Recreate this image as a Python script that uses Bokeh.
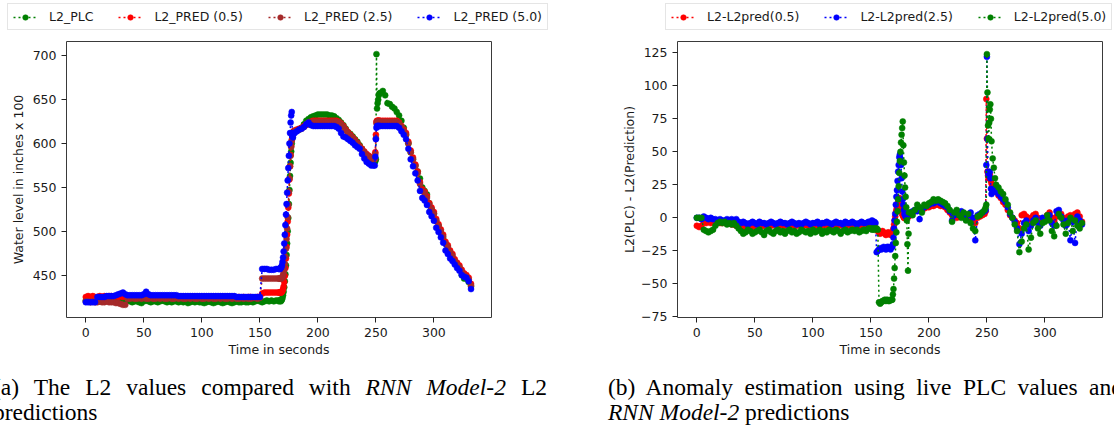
from bokeh.plotting import figure
from bokeh.models import ColumnDataSource, Range1d, FixedTicker, Legend, LegendItem, Div
from bokeh.layouts import column, row
from bokeh.embed import file_html
from bokeh.resources import INLINE

FONT = "DejaVu Sans"
FS = "12.5px"

# ---------------- panel (a): L2 values vs predictions ----------------
TIME_A = (list(range(0, 166, 2))
          + [166, 166.5, 167, 167.5, 168, 168.5, 169, 169.5, 170, 170.5, 171, 171.5, 172, 172.5,
             173, 173.5, 174, 174.5, 175, 175.5, 176, 176.5, 177, 177.5, 178, 178.5, 179]
          + list(range(180, 249, 2))
          + [249, 249.5, 250, 250.5, 251, 251.5, 252, 252.5, 253]
          + list(range(254, 333, 2)))

L2_PLC = ([421, 420, 421, 420, 421, 420, 420, 421, 420, 421,
           420, 421, 420, 420, 421, 420, 419, 420, 421, 420,
           419, 420, 420, 419, 418, 420, 421, 420, 419, 420,
           420, 419, 420, 421, 420, 419, 420, 419, 420, 420,
           419, 420, 419, 420, 418, 419, 420, 419, 420, 419,
           419, 418, 419, 420, 419, 418, 419, 420, 419, 418,
           419, 420, 419, 418, 419, 420, 419, 419, 420, 419,
           419, 420, 419, 420, 421, 420, 419, 420, 421, 420,
           421, 420, 421]
          + [421, 420, 421, 421, 420, 421, 422, 424, 427, 431, 436, 443, 451, 461,
             473, 486, 500, 515, 531, 547, 563, 578, 591, 600, 606, 610, 613]
          + [614, 615, 616, 618, 622, 626, 628, 630, 631, 632,
             633, 633, 633, 633, 633, 632, 632, 631, 629, 627,
             624, 621, 617, 613, 611, 608, 605, 602, 598, 594,
             590, 587, 584, 582, 580]
          + [579, 580, 582, 702, 640, 646, 650, 655, 657]
          + [658, 660, 655, 646, 645, 642, 640, 636, 632, 626,
             618, 610, 600, 590, 582, 575, 568, 560, 550, 546,
             542, 532, 525, 520, 512, 506, 498, 492, 486, 482,
             476, 470, 464, 462, 458, 450, 446, 446, 442, 437])

L2_PRED_05 = ([425, 426, 425, 426, 425,
               425, 426, 425, 426, 425, 426, 426, 425, 426, 425,
               426, 425, 426,
               424, 425, 424, 424, 425, 424, 424, 425, 424, 425,
               425, 424, 425, 425, 424, 425, 425, 424, 425, 425,
               424, 425, 424, 425, 425, 424, 425, 424, 425, 425,
               424, 425, 424, 425, 425, 424, 425, 425, 424, 425,
               424, 425, 424, 425, 425, 424, 425, 424, 425, 424,
               425, 424, 425, 425, 424, 424, 425, 425,
               429, 430, 430, 430, 430, 430, 430]
              + [430, 430, 430, 430, 430, 430, 431, 432, 434, 437, 442, 449, 458, 469,
                 482, 496, 511, 527, 543, 559, 574, 587, 597, 604, 609, 612, 614]
              + [615, 616, 617, 618, 620, 622, 624, 625, 626, 626,
                 626, 626, 626, 626, 626, 626, 626, 626, 626, 625,
                 623, 620, 616, 613, 610, 607, 604, 601, 597, 594,
                 591, 588, 586, 584, 583]
              + [583, 590, 610, 625, 626, 626, 626, 626, 626]
              + [626, 626, 626, 626, 626, 626, 626, 626, 624, 620,
                 616, 612, 602, 592, 584, 576, 568, 556, 548, 545,
                 540, 532, 527, 522, 514, 508, 502, 496, 488, 484,
                 478, 474, 468, 464, 461, 456, 452, 450, 447, 440])

L2_PRED_25 = ([420, 420, 419, 420, 419, 419, 420, 419, 419, 420, 419, 419, 419, 418, 418,
               417, 416, 416,
               423, 423, 424, 423, 423, 424, 423, 424, 423, 423,
               424, 423, 423, 424, 423, 424, 423, 423, 424, 423,
               423, 424, 423, 424, 423, 423, 424, 423, 424, 423,
               423, 424, 423, 423, 424, 423, 424, 423, 423, 424,
               423, 424, 423, 423, 424, 423, 424, 423, 423, 424,
               423, 424, 423, 423, 424, 424, 423, 424,
               446, 446, 446, 446, 446, 446, 446]
              + [446, 446, 446, 446, 446, 446, 447, 448, 450, 453, 457, 463, 471, 480,
                 491, 503, 516, 530, 545, 560, 574, 586, 596, 603, 608, 611, 613]
              + [614, 615, 616, 617, 619, 621, 623, 624, 625, 625,
                 625, 625, 625, 625, 625, 625, 625, 625, 625, 624,
                 622, 619, 615, 612, 609, 606, 603, 600, 596, 593,
                 590, 587, 585, 583, 582]
              + [582, 588, 606, 623, 625, 625, 625, 625, 625]
              + [625, 625, 625, 625, 625, 625, 625, 625, 623, 619,
                 614, 610, 600, 590, 582, 574, 566, 554, 546, 543,
                 538, 530, 525, 520, 512, 506, 500, 494, 486, 482,
                 476, 472, 466, 462, 459, 454, 450, 448, 445, 438])

L2_PRED_50 = ([419, 419, 419, 419, 419,
               425, 425, 425, 425, 426, 426, 426, 426, 427, 428,
               429, 430, 428,
               427, 427, 427, 427, 427, 427, 427, 428, 431, 428,
               427, 427, 427, 427, 427, 427, 427, 427, 427, 427,
               427, 427, 426, 426, 426, 426, 426, 426, 426, 426,
               426, 426, 426, 426, 426, 426, 426, 426, 426, 426,
               426, 426, 426, 426, 426, 426, 426, 425, 425, 425,
               425, 425, 425, 425, 425, 425, 425, 425,
               457, 457, 457, 456, 456, 456, 457]
              + [457, 457, 457, 457, 458, 459, 461, 465, 470, 477, 486, 496, 507, 519,
                 531, 544, 558, 572, 586, 600, 612, 624, 632, 636, 612, 607, 612]
              + [612, 614, 616, 617, 619, 622, 624, 621, 620, 620,
                 620, 620, 620, 620, 620, 620, 620, 620, 619, 617,
                 612, 608, 607, 605, 603, 601, 598, 596, 594, 588,
                 583, 579, 577, 575, 575]
              + [575, 585, 605, 618, 620, 620, 620, 620, 620]
              + [620, 620, 620, 620, 620, 620, 620, 620, 618, 614,
                 610, 605, 594, 582, 574, 566, 558, 546, 538, 535,
                 530, 522, 517, 512, 504, 499, 493, 487, 478, 474,
                 469, 466, 462, 458, 455, 450, 448, 447, 443, 434])

# ---------------- panel (b): anomaly estimation ----------------
TIME_B = (list(range(0, 150, 2))
          + list(range(150, 169))
          + [168.5, 169, 169.5, 170, 170.5, 171, 171.5, 172, 172.5, 173,
             173.5, 174, 174.5, 175, 175.5, 176, 176.5, 177, 177.5, 178,
             178.5, 179, 179.5, 180, 180.5, 181, 181.5, 182, 182.5, 183]
          + list(range(184, 249, 2))
          + [249, 249.5, 250, 250.5, 251, 251.5, 252, 252.5, 253, 253.5, 254, 255, 256, 257]
          + list(range(258, 333, 2)))

DIFF_05 = ([-6, -7, -6,
            -3, -4, -3, -4, -3,
            -4, -3, -4, -4, -3, -4, -4, -5, -5, -6,
            -7, -8, -7, -8, -7, -6, -7, -6, -6, -7,
            -6, -6, -5, -6, -6, -5, -6, -6, -5, -6,
            -6, -5, -6, -5, -6, -6, -5, -6, -6, -5,
            -6, -5, -6, -6, -5, -6, -6, -5, -6, -5,
            -6, -6, -5, -6, -5, -6, -6, -5, -6, -6,
            -5, -6, -6, -5, -6, -5, -6]
           + [-6, -5, -6, -7, -8, -9, -10, -11, -12, -11, -10, -11, -12, -13, -12, -11, -12, -13, -12]
           + [-12, -10, -8, -5, -2, 1, 4, 6, 8, 10,
              12, 14, 15, 14, 12, 8, 5, 3, 2, 1,
              0, 0, 0, 1, 1, 0, 0, 1, 1, 2]
           + [2, 4, 5, 6, 6, 7, 7, 8, 8, 9,
              9, 10, 10, 9, 9, 8, 6, 4, 2, 1,
              0, 1, 2, 3, 2, 1, 0, -3, -4, 0,
              1, 2, 3]
           + [5, 90, 60, 35, 32, 30, 31, 33, 30, 28, 26, 24, 22, 20]
           + [20, 17, 15, 12, 10, 6, 2, 0, -2, -4,
              -8, 2, 3, 1, -2, 0, 2, 3, 0, -4,
              -2, 0, 2, 4, 0, -2, 1, 2, 3, 0,
              -2, 1, 2, 0, 3, 4, 1, -3])

DIFF_25 = ([0, 0, -1,
            1, 0, -1, 0, -1,
            -1, -2, -1, -2, -2, -1, -2, -1, -2, -1,
            -3, -4, -3, -4, -5, -4, -3, -4, -5, -3,
            -4, -4, -5, -4, -3, -4, -5, -4, -3, -4,
            -4, -5, -4, -3, -4, -5, -4, -5, -4, -3,
            -4, -5, -4, -4, -3, -5, -4, -4, -3, -4,
            -5, -4, -3, -4, -4, -5, -3, -4, -4, -3,
            -4, -5, -4, -3, -4, -4, -3]
           + [-3, -2, -4, -3, -4, -26, -25, -24, -23, -24, -23, -22, -23, -24, -22, -22, -23, -24, -22]
           + [-22, -20, -15, -8, -2, 3, 10, 16, 21, 28,
              35, 40, 46, 48, 45, 40, 30, 20, 14, 10,
              6, 3, 2, 1, 1, 0, 1, 2, 2, 3]
           + [3, 5, 6, 5, -1, 6, 8, 9, 10, 11,
              11, 12, 12, 11, 10, 9, 8, 5, -2, 2,
              4, 3, 5, 3, -1, 2, 4, 0, -17, 2,
              3, 4, 5]
           + [6, 40, 122, 60, 35, 33, 32, 35, 30, 22, 18, 20, 22, 20]
           + [22, 18, 16, 14, 12, 8, 3, 0, -3, -8,
              -20, -12, -4, -2, -10, -6, -2, 0, -4, -6,
              0, -2, 0, 2, -4, -6, 5, 6, 1, -2,
              -6, -2, -17, -3, -19, 1, -2, -5])

DIFF_50 = ([0, 0, 0,
            -9, -10, -11, -10, -9,
            -6, -4, -3, -4, -3, -5, -4, -5, -4, -6,
            -8, -10, -12, -11, -9, -10, -12, -11, -10, -9,
            -11, -13, -10, -9, -11, -12, -10, -9, -11, -10,
            -12, -10, -9, -11, -10, -12, -11, -9, -10, -11,
            -10, -12, -9, -11, -10, -9, -12, -10, -11, -9,
            -10, -11, -9, -10, -12, -10, -9, -11, -10, -9,
            -10, -9, -11, -10, -9, -10, -8]
           + [-8, -9, -8, -9, -8, -8, -9, -64, -65, -64, -63, -63, -62, -63, -62, -63, -63, -62, -62]
           + [-62, -58, -54, -46, -38, -29, -19, -11, -3, 5,
              14, 24, 34, 43, 50, 57, 63, 68, 73, 55,
              42, 32, 23, 16, 8, -2, -20, -40, -12, 4]
           + [4, 2, 6, 10, 8, 4, 10, 9, 11, 12,
              14, 13, 14, 13, 12, 11, 9, 6, -3, 4,
              6, 2, 0, 4, -2, 3, -4, -8, -10, 1,
              2, 4, 6]
           + [8, 10, 124, 95, 70, 60, 72, 82, 86, 75, 58, 45, 38, 30]
           + [25, 23, 20, 18, 14, 10, 4, 0, -5, -10,
              -26, -18, -8, -5, -24, -15, -4, -2, -8, -12,
              -4, -3, 2, -2, -10, -14, -6, 3, 0, -5,
              -12, -4, 0, -10, -2, -6, -8, -4])

LABELS_A = ["L2_PLC", "L2_PRED (0.5)", "L2_PRED (2.5)", "L2_PRED (5.0)"]
COLORS_A = ["green", "red", "brown", "blue"]
LABELS_B = ["L2-L2pred(0.5)", "L2-L2pred(2.5)", "L2-L2pred(5.0)"]
COLORS_B = ["red", "blue", "green"]
XTICKS = [0, 50, 100, 150, 200, 250, 300]
YTICKS_A = [450, 500, 550, 600, 650, 700]
YTICKS_B = [-75, -50, -25, 0, 25, 50, 75, 100, 125]

bad = []
for nm, s in [("PLC", L2_PLC), ("P05", L2_PRED_05), ("P25", L2_PRED_25), ("P50", L2_PRED_50)]:
    if len(s) != len(TIME_A):
        bad.append((nm, len(s), len(TIME_A)))
for nm, s in [("D05", DIFF_05), ("D25", DIFF_25), ("D50", DIFF_50)]:
    if len(s) != len(TIME_B):
        bad.append((nm, len(s), len(TIME_B)))
if bad:
    raise SystemExit("length mismatch: %r" % bad)

W = 557  # width of each half


def base_figure(border_left, border_right, y_range, ylabel_standoff):
    p = figure(width=W, height=333, output_backend="svg", toolbar_location=None,
               x_range=Range1d(-16.65, 349.65), y_range=y_range,
               min_border_left=border_left, min_border_right=border_right,
               min_border_top=0, min_border_bottom=57)
    p.background_fill_color = "white"
    p.border_fill_color = "white"
    p.outline_line_color = "#3a3a3a"
    p.outline_line_width = 1
    p.xgrid.grid_line_color = None
    p.ygrid.grid_line_color = None
    for ax in (p.xaxis[0], p.yaxis[0]):
        ax.axis_line_color = None
        ax.major_tick_line_color = "#222222"
        ax.major_tick_out = 5
        ax.major_tick_in = 0
        ax.minor_tick_line_color = None
        ax.major_label_standoff = 5
        ax.major_label_text_font = FONT
        ax.major_label_text_font_size = FS
        ax.major_label_text_color = "#1a1a1a"
        ax.axis_label_text_font = FONT
        ax.axis_label_text_font_size = FS
        ax.axis_label_text_font_style = "normal"
        ax.axis_label_text_color = "#1a1a1a"
    p.xaxis.ticker = FixedTicker(ticks=XTICKS)
    p.xaxis.axis_label = "Time in seconds"
    p.xaxis.axis_label_standoff = 2
    p.yaxis.axis_label_standoff = ylabel_standoff
    return p


def add_series(p, src, color):
    ln = p.line("t", "v", source=src, line_color=color, line_width=1.5, line_dash="2 3")
    sc = p.scatter("t", "v", source=src, marker="circle", size=6,
                   fill_color=color, line_color=color, line_width=0.5)
    return [ln, sc]


def legend_figure(labels, colors, vx):
    # a strip that only carries the legend; its glyphs hold a single NaN row (nothing drawn)
    lf = figure(width=W, height=41, output_backend="svg", toolbar_location=None,
                x_range=Range1d(0, 1), y_range=Range1d(0, 1),
                x_axis_location=None, y_axis_location=None,
                min_border=0, min_border_left=0, min_border_right=0,
                min_border_top=0, min_border_bottom=0)
    lf.outline_line_color = None
    lf.xgrid.grid_line_color = None
    lf.ygrid.grid_line_color = None
    lf.background_fill_color = "white"
    lf.border_fill_color = "white"
    items = []
    for lab, col in zip(labels, colors):
        dummy = ColumnDataSource(dict(t=[float("nan")], v=[float("nan")]))
        items.append(LegendItem(label=lab, renderers=add_series(lf, dummy, col)))
    lg = Legend(items=items, orientation="horizontal", location=(vx, 11),
                label_text_font=FONT, label_text_font_size=FS, label_text_color="#1a1a1a",
                glyph_width=24, glyph_height=14, label_height=14, label_standoff=12,
                spacing=25, padding=5, margin=0,
                border_line_color="#cccccc", border_line_width=1,
                background_fill_color="white", background_fill_alpha=0.8)
    lf.add_layout(lg)
    return lf


# panel (a)
p1 = base_figure(66, 66, Range1d(401.6, 716.4), 4)
p1.yaxis.ticker = FixedTicker(ticks=YTICKS_A)
p1.yaxis.axis_label = "Water level in inches x 100"
for vals, col in zip([L2_PLC, L2_PRED_05, L2_PRED_25, L2_PRED_50], COLORS_A):
    add_series(p1, ColumnDataSource(dict(t=TIME_A, v=vals)), col)

# panel (b)
p2 = base_figure(120, 12, Range1d(-75.5, 133.6), 1)
p2.yaxis.ticker = FixedTicker(ticks=YTICKS_B)
p2.yaxis.major_label_overrides = {-75: "\u221275", -50: "\u221250", -25: "\u221225"}
p2.yaxis.axis_label = "L2(PLC) - L2(Prediction)"
for vals, col in zip([DIFF_05, DIFF_25, DIFF_50], COLORS_B):
    add_series(p2, ColumnDataSource(dict(t=TIME_B, v=vals)), col)

leg_a = legend_figure(LABELS_A, COLORS_A, 7)
leg_b = legend_figure(LABELS_B, COLORS_B, 108)

CAP_STYLE = ("font-family:'Liberation Serif','Times New Roman',serif;font-size:23.5px;"
             "line-height:24.5px;text-align:justify;color:#000;padding-top:1px;")
ITAL = '<i style="white-space:nowrap">RNN Model-2</i>'
cap_a = Div(text=('<div style="margin-left:-7px;width:554px;' + CAP_STYLE + '">'
                  '(a) The L2 values compared with ' + ITAL + ' L2 predictions</div>'),
            width=W, height=58, margin=(0, 0, 0, 0))
cap_b = Div(text=('<div style="width:557px;height:58px;overflow:hidden;"><div style="margin-left:51px;width:515px;'
                  + CAP_STYLE + '">(b) Anomaly estimation using live PLC values and '
                  + ITAL + ' predictions</div></div>'),
            width=W, height=58, margin=(0, 0, 0, 0))

layout = column(row(leg_a, leg_b, spacing=0), row(p1, p2, spacing=0),
                row(cap_a, cap_b, spacing=0), spacing=0)
open("out.html", "w").write(file_html(layout, INLINE))
